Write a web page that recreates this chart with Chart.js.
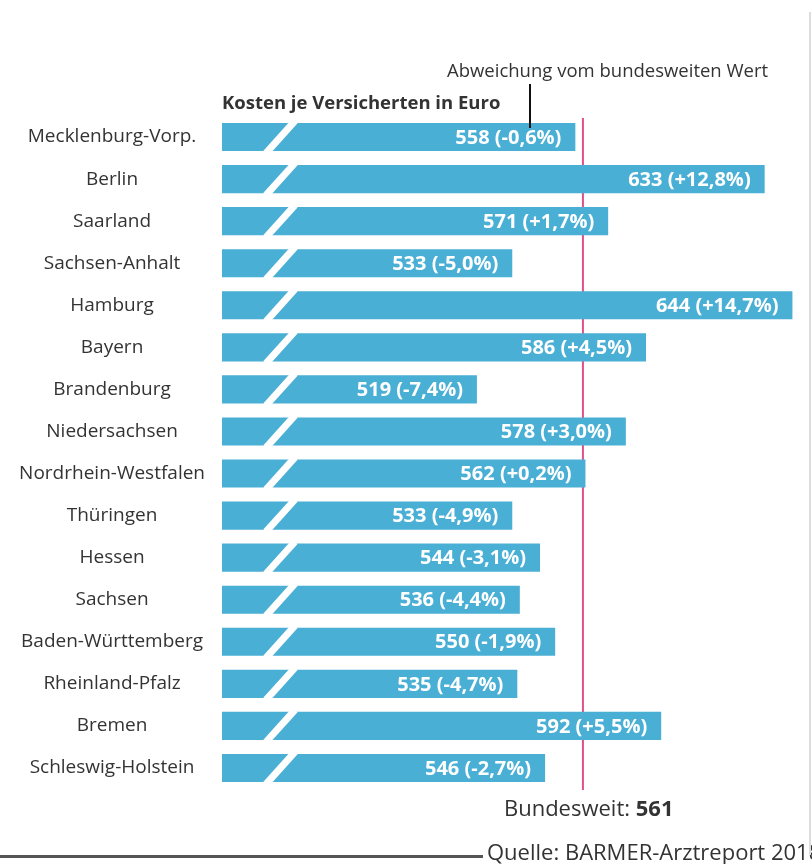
<!DOCTYPE html>
<html>
<head>
<meta charset="utf-8">
<script src="https://cdn.jsdelivr.net/npm/chart.js@4.4.1/dist/chart.umd.min.js"></script>
<style>
	body { margin: 0; background: #fff; }
	canvas { display: block; }
</style>
</head>
<body>
<canvas id="chartKosten" width="812" height="864"></canvas>
<script>
	// Daten
	var laender = ['Mecklenburg-Vorp.', 'Berlin', 'Saarland', 'Sachsen-Anhalt', 'Hamburg', 'Bayern',
		'Brandenburg', 'Niedersachsen', 'Nordrhein-Westfalen', 'Thüringen', 'Hessen', 'Sachsen',
		'Baden-Württemberg', 'Rheinland-Pfalz', 'Bremen', 'Schleswig-Holstein'];
	var kosten = [558, 633, 571, 533, 644, 586, 519, 578, 562, 533, 544, 536, 550, 535, 592, 546];
	var abweichung = [-0.6, 12.8, 1.7, -5.0, 14.7, 4.5, -7.4, 3.0, 0.2, -4.9, -3.1, -4.4, -1.9, -4.7, 5.5, -2.7];
	var bundesweit = 561;

	var FONT = '"Open Sans", Roboto, sans-serif';

	function fmtProzent(p) {
		var s = Math.abs(p).toFixed(1).replace('.', ',');
		return (p >= 0 ? '+' : '-') + s + '%';
	}

	var deko = {
		id: 'deko',
		beforeDatasetsDraw: function(chart) {
			// Linie bundesweiter Wert (hinter den Balken)
			var ctx = chart.ctx, area = chart.chartArea;
			var x = chart.scales.x.getPixelForValue(bundesweit);
			ctx.save();
			ctx.strokeStyle = '#e0508a';
			ctx.lineWidth = 2;
			ctx.beginPath();
			ctx.moveTo(x, area.top + 2);
			ctx.lineTo(x, area.bottom + 1);
			ctx.stroke();
			ctx.restore();
		},
		afterDatasetsDraw: function(chart) {
			var ctx = chart.ctx;
			var left = chart.chartArea.left;
			var meta = chart.getDatasetMeta(0);
			ctx.save();
			meta.data.forEach(function(bar, i) {
				var top = bar.y - bar.height / 2, bottom = bar.y + bar.height / 2;
				// Achsenbruch
				ctx.strokeStyle = '#fff';
				ctx.lineWidth = 7;
				ctx.beginPath();
				ctx.moveTo(left + 44, bottom + 2);
				ctx.lineTo(left + 73, top - 2);
				ctx.stroke();
				// Wert
				ctx.fillStyle = '#fff';
				ctx.font = 'bold 20px ' + FONT;
				ctx.textAlign = 'right';
				ctx.textBaseline = 'middle';
				ctx.fillText(kosten[i] + ' (' + fmtProzent(abweichung[i]) + ')', bar.x - 14, bar.y + 1);
			});
			ctx.restore();
		},
		afterDraw: function(chart) {
			var ctx = chart.ctx;
			var x = chart.scales.x.getPixelForValue(bundesweit);
			ctx.save();
			ctx.fillStyle = '#333';
			ctx.textBaseline = 'alphabetic';
			ctx.textAlign = 'left';
			ctx.font = 'bold 18.5px ' + FONT;
			ctx.fillText('Kosten je Versicherten in Euro', 222, 109);
			ctx.font = '18.5px ' + FONT;
			ctx.fillText('Abweichung vom bundesweiten Wert', 447, 77);
			// Hinweislinie
			ctx.strokeStyle = '#111';
			ctx.lineWidth = 2;
			ctx.beginPath();
			ctx.moveTo(530, 84);
			ctx.lineTo(530, 128);
			ctx.stroke();
			// Bundesweit
			ctx.font = '22px ' + FONT;
			var t1 = 'Bundesweit: ';
			var w1 = ctx.measureText(t1).width;
			ctx.fillText(t1, x - 79, 816);
			ctx.font = 'bold 22px ' + FONT;
			ctx.fillText(String(bundesweit), x - 79 + w1, 816);
			// Quelle
			ctx.font = '22px ' + FONT;
			ctx.fillText('Quelle: BARMER-Arztreport 2018', 487, 860);
			ctx.fillStyle = '#555';
			ctx.fillRect(0, 855, 483, 3);
			// Rahmen rechts
			ctx.fillStyle = '#ddd';
			ctx.fillRect(809, 12, 2, 843);
			ctx.restore();
		}
	};

	var myChart = new Chart(document.getElementById('chartKosten'), {
		type: 'bar',
		data: {
			labels: laender,
			datasets: [{
				label: 'Kosten je Versicherten in Euro',
				data: kosten,
				backgroundColor: '#4aafd5',
				borderWidth: 0,
				barPercentage: 0.67,
				categoryPercentage: 1
			}]
		},
		options: {
			indexAxis: 'y',
			responsive: false,
			animation: false,
			layout: { padding: { top: 116, bottom: 75, left: 0, right: 12 } },
			plugins: {
				legend: { display: false },
				tooltip: { enabled: false }
			},
			scales: {
				x: {
					display: false,
					min: 418,
					max: 647
				},
				y: {
					grid: { display: false },
					border: { display: false },
					afterFit: function(scale) { scale.width = 222; },
					ticks: {
						crossAlign: 'center',
						padding: 9,
						color: '#333',
						font: { family: FONT, size: 19 }
					}
				}
			}
		},
		plugins: [deko]
	});
</script>
</body>
</html>
